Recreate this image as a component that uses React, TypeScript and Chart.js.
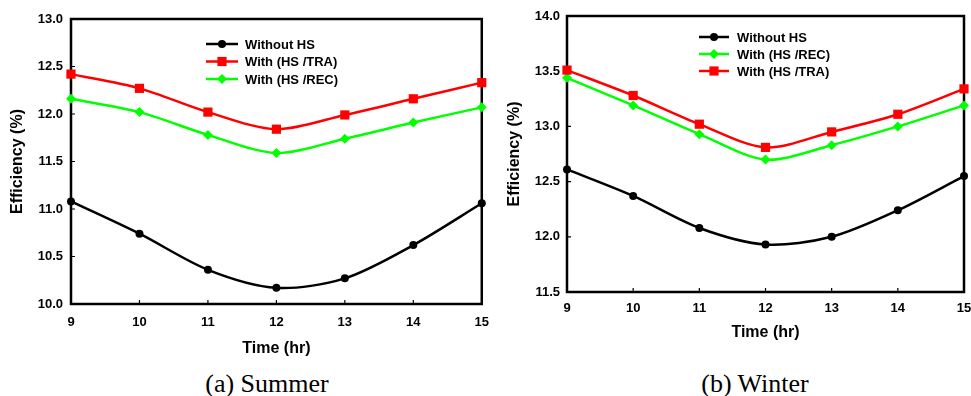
import React, { useEffect, useRef } from "react";
import { Chart, registerables } from "chart.js";

Chart.register(...registerables);

// ---------- data ----------
const hours = [9, 10, 11, 12, 13, 14, 15];

const summerWithoutHS = [11.08, 10.74, 10.36, 10.17, 10.27, 10.62, 11.06];
const summerHSTRA = [12.42, 12.27, 12.02, 11.84, 11.99, 12.16, 12.33];
const summerHSREC = [12.16, 12.02, 11.78, 11.59, 11.74, 11.91, 12.07];

const winterWithoutHS = [12.61, 12.37, 12.08, 11.93, 12.0, 12.24, 12.55];
const winterHSREC = [13.44, 13.19, 12.93, 12.7, 12.83, 13.0, 13.19];
const winterHSTRA = [13.51, 13.28, 13.02, 12.81, 12.95, 13.11, 13.34];

const summerYRange = [10.0, 13.0];
const winterYRange = [11.5, 14.0];
const yStep = 0.5;

const labelWithout = "Without HS";
const labelTRA = "With (HS /TRA)";
const labelREC = "With (HS /REC)";

const BLACK = "#000000";
const RED = "#ff0000";
const GREEN = "#00ff00";

const FONT = "'Liberation Sans', Arial, sans-serif";

type Series = { label: string; data: number[]; color: string; style: string; radius: number };

function drawMarker(ctx: CanvasRenderingContext2D, style: string, x: number, y: number, r: number, color: string) {
  ctx.save();
  ctx.fillStyle = color;
  ctx.beginPath();
  if (style === "circle") {
    ctx.arc(x, y, r, 0, Math.PI * 2);
  } else if (style === "rect") {
    const s = r * Math.SQRT1_2;
    ctx.rect(x - s, y - s, 2 * s, 2 * s);
  } else {
    ctx.moveTo(x, y - r);
    ctx.lineTo(x + r, y);
    ctx.lineTo(x, y + r);
    ctx.lineTo(x - r, y);
    ctx.closePath();
  }
  ctx.fill();
  ctx.restore();
}

const framePlugin = {
  id: "frame",
  beforeDatasetsDraw(chart: any) {
    const { ctx, chartArea } = chart;
    const { left, right, top, bottom } = chartArea;
    const xs = chart.scales.x;
    const ys = chart.scales.y;
    ctx.save();
    ctx.strokeStyle = "#000";
    ctx.lineWidth = 2.5;
    ctx.strokeRect(left, top, right - left, bottom - top);
    ctx.lineWidth = 1.2;
    ctx.beginPath();
    xs.ticks.forEach((t: any) => {
      const px = xs.getPixelForValue(t.value);
      ctx.moveTo(px, bottom);
      ctx.lineTo(px, bottom - 4);
    });
    ys.ticks.forEach((t: any) => {
      const py = ys.getPixelForValue(t.value);
      ctx.moveTo(left, py);
      ctx.lineTo(left + 4, py);
    });
    ctx.stroke();
    ctx.restore();
  },
};

const legendPlugin = {
  id: "insideLegend",
  afterDraw(chart: any, _args: any, opts: any) {
    const { ctx } = chart;
    const items: Series[] = opts.items || [];
    ctx.save();
    ctx.font = `bold 13px ${FONT}`;
    ctx.textBaseline = "middle";
    ctx.textAlign = "left";
    items.forEach((it, i) => {
      const y = opts.y0 + i * opts.dy;
      ctx.strokeStyle = it.color;
      ctx.lineWidth = 2.5;
      ctx.beginPath();
      ctx.moveTo(opts.x0, y);
      ctx.lineTo(opts.x1, y);
      ctx.stroke();
      drawMarker(ctx, it.style, (opts.x0 + opts.x1) / 2, y, it.radius, it.color);
      ctx.fillStyle = "#000";
      ctx.fillText(it.label, opts.tx, y + 1);
    });
    ctx.restore();
  },
};

type PanelProps = {
  width: number;
  height: number;
  series: Series[];
  legendOrder: Series[];
  yRange: number[];
  pad: { top: number; right: number };
  yAxisWidth: number;
  xAxisHeight: number;
  yTickPad: number;
  xTickPad: number;
  yTitlePad: number;
  xTitlePad: number;
  legend: { x0: number; x1: number; tx: number; y0: number; dy: number };
};

function Panel(p: PanelProps) {
  const ref = useRef<HTMLCanvasElement>(null);
  useEffect(() => {
    if (!ref.current) return;
    const chart = new Chart(ref.current, {
      type: "line",
      data: {
        labels: hours.map(String),
        datasets: p.series.map((s) => ({
          label: s.label,
          data: s.data,
          borderColor: s.color,
          backgroundColor: s.color,
          pointBackgroundColor: s.color,
          pointBorderColor: s.color,
          pointBorderWidth: 0,
          pointStyle: s.style as any,
          pointRadius: s.radius,
          borderWidth: 2.5,
          tension: 0.3,
          clip: false as any,
          fill: false,
        })),
      },
      options: {
        responsive: false,
        animation: false,
        devicePixelRatio: 1,
        layout: { padding: { top: p.pad.top, right: p.pad.right, left: 0, bottom: 0 } },
        plugins: {
          legend: { display: false },
          tooltip: { enabled: false },
          insideLegend: { ...p.legend, items: p.legendOrder },
        } as any,
        scales: {
          x: {
            type: "category",
            offset: false,
            grid: { display: false, drawTicks: false },
            border: { display: false },
            ticks: {
              color: "#000",
              font: { family: FONT, size: 13, weight: "bold" },
              padding: p.xTickPad,
              maxRotation: 0,
              autoSkip: false,
            },
            title: {
              display: true,
              text: "Time (hr)",
              color: "#000",
              font: { family: FONT, size: 16, weight: "bold" },
              padding: { top: 0, bottom: p.xTitlePad },
            },
            afterFit: (s: any) => {
              s.height = p.xAxisHeight;
            },
          },
          y: {
            min: p.yRange[0],
            max: p.yRange[1],
            grid: { display: false, drawTicks: false },
            border: { display: false },
            ticks: {
              stepSize: yStep,
              color: "#000",
              font: { family: FONT, size: 13, weight: "bold" },
              padding: p.yTickPad,
              callback: (v: any) => Number(v).toFixed(1),
            },
            title: {
              display: true,
              text: "Efficiency (%)",
              color: "#000",
              font: { family: FONT, size: 16, weight: "bold" },
              padding: { top: p.yTitlePad, bottom: 0 },
            },
            afterFit: (s: any) => {
              s.width = p.yAxisWidth;
            },
          },
        },
      },
      plugins: [framePlugin, legendPlugin],
    });
    return () => chart.destroy();
  }, []);
  return <canvas ref={ref} width={p.width} height={p.height} style={{ width: p.width, height: p.height, display: "block" }} />;
}

const sWithout: Series = { label: labelWithout, data: summerWithoutHS, color: BLACK, style: "circle", radius: 4 };
const sTRA: Series = { label: labelTRA, data: summerHSTRA, color: RED, style: "rect", radius: 6.5 };
const sREC: Series = { label: labelREC, data: summerHSREC, color: GREEN, style: "rectRot", radius: 5 };

const wWithout: Series = { label: labelWithout, data: winterWithoutHS, color: BLACK, style: "circle", radius: 4 };
const wREC: Series = { label: labelREC, data: winterHSREC, color: GREEN, style: "rectRot", radius: 5 };
const wTRA: Series = { label: labelTRA, data: winterHSTRA, color: RED, style: "rect", radius: 6.5 };

const captionStyle: React.CSSProperties = {
  position: "absolute",
  width: 300,
  textAlign: "center",
  fontFamily: "'Liberation Serif', 'Times New Roman', serif",
  fontSize: 26,
  lineHeight: "30px",
  color: "#000",
};

export default function App() {
  return (
    <div style={{ position: "absolute", left: 0, top: 0, width: 971, height: 396, overflow: "hidden", background: "#fff" }}>
      <div style={{ position: "absolute", left: 0, top: 0 }}>
        <Panel
          width={500}
          height={360}
          series={[sWithout, sTRA, sREC]}
          legendOrder={[sWithout, sTRA, sREC]}
          yRange={summerYRange}
          pad={{ top: 19, right: 17 }}
          yAxisWidth={71}
          xAxisHeight={56}
          yTickPad={8}
          xTickPad={11}
          yTitlePad={8}
          xTitlePad={2}
          legend={{ x0: 206, x1: 238, tx: 245, y0: 44, dy: 17.5 }}
        />
      </div>
      <div style={{ position: "absolute", left: 490, top: 0 }}>
        <Panel
          width={500}
          height={344}
          series={[wWithout, wTRA, wREC]}
          legendOrder={[wWithout, wREC, wTRA]}
          yRange={winterYRange}
          pad={{ top: 16, right: 26 }}
          yAxisWidth={77}
          xAxisHeight={52}
          yTickPad={7}
          xTickPad={9}
          yTitlePad={15}
          xTitlePad={2}
          legend={{ x0: 209, x1: 239, tx: 247, y0: 37, dy: 17 }}
        />
      </div>
      <div style={{ ...captionStyle, left: 267 - 150, top: 369 }}>(a) Summer</div>
      <div style={{ ...captionStyle, left: 755 - 150, top: 369 }}>(b) Winter</div>
    </div>
  );
}
